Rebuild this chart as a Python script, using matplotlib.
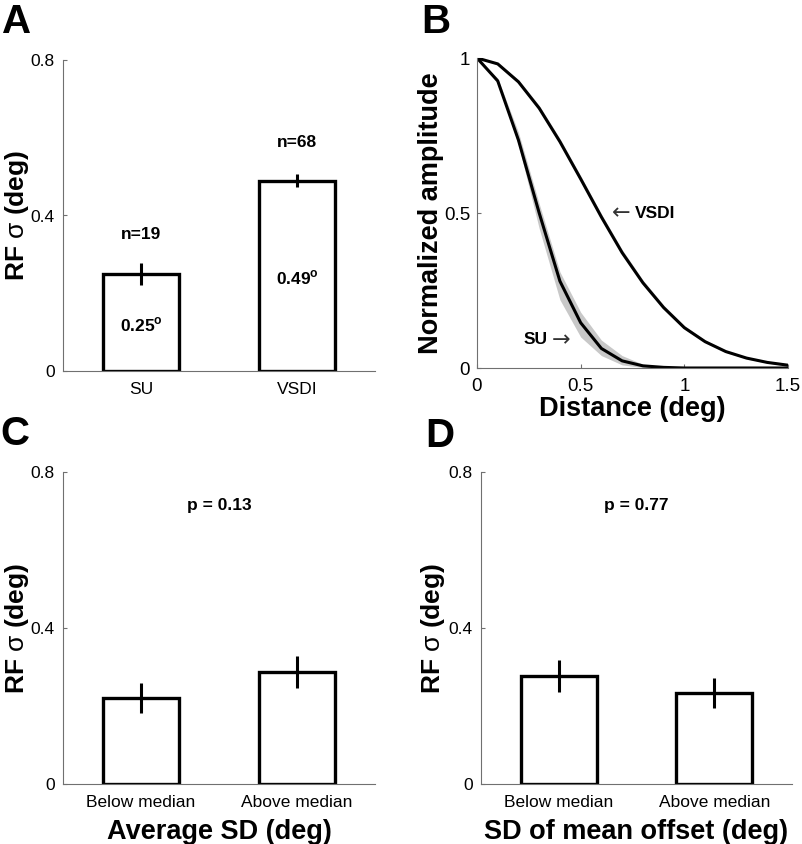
import matplotlib
matplotlib.use("Agg")
import matplotlib.pyplot as plt

plt.rcParams['font.family'] = ['Liberation Sans', 'DejaVu Sans']
plt.rcParams['mathtext.fontset'] = 'custom'
plt.rcParams['mathtext.rm'] = 'Liberation Sans'
plt.rcParams['mathtext.bf'] = 'Liberation Sans:bold'

# Panel A: RF sigma, SU vs VSDI
a_labels = ['SU', 'VSDI']
a_means = [0.25, 0.49]
a_errs = [0.028, 0.017]
a_counts = ['n=19', 'n=68']
a_values = ['0.25', '0.49']

# Panel B: normalized amplitude vs distance
dist = [0.0, 0.1, 0.2, 0.3, 0.4, 0.5, 0.6, 0.7, 0.8, 0.9, 1.0, 1.1, 1.2, 1.3, 1.4, 1.5]
su_amp = [1.0, 0.926, 0.735, 0.50, 0.28, 0.146, 0.063, 0.023, 0.007, 0.002, 0, 0, 0, 0, 0, 0]
su_lo = [1.0, 0.92, 0.72, 0.45, 0.22, 0.10, 0.04, 0.01, 0.002, 0, 0, 0, 0, 0, 0, 0]
su_hi = [1.0, 0.935, 0.76, 0.53, 0.31, 0.18, 0.09, 0.04, 0.012, 0.003, 0, 0, 0, 0, 0, 0]
vsdi_amp = [1.0, 0.981, 0.923, 0.838, 0.73, 0.61, 0.487, 0.372, 0.275, 0.195, 0.13, 0.085, 0.053, 0.032, 0.018, 0.009]
vsdi_lo = [1.0, 0.978, 0.918, 0.832, 0.723, 0.602, 0.48, 0.366, 0.27, 0.19, 0.126, 0.082, 0.05, 0.03, 0.016, 0.007]
vsdi_hi = [1.0, 0.985, 0.93, 0.847, 0.74, 0.62, 0.497, 0.382, 0.284, 0.203, 0.137, 0.09, 0.057, 0.035, 0.02, 0.011]

# Panels C and D: below / above median split
split_labels = ['Below median', 'Above median']
c_means = [0.22, 0.287]
c_errs = [0.038, 0.04]
c_p = 'p = 0.13'
d_means = [0.277, 0.233]
d_errs = [0.041, 0.039]
d_p = 'p = 0.77'

W, H = 802, 844
fig = plt.figure(figsize=(W / 100, H / 100), dpi=100)


def px_axes(left, right, top, bottom):
    return fig.add_axes([left / W, 1 - bottom / H, (right - left) / W, (bottom - top) / H])


def style(ax, fs=12.5):
    for s in ['top', 'right']:
        ax.spines[s].set_visible(False)
    for s in ['left', 'bottom']:
        ax.spines[s].set_color('#707070')
        ax.spines[s].set_linewidth(0.8)
    ax.tick_params(direction='in', length=3, width=0.8, color='#707070', labelsize=fs, pad=6)
    ax.tick_params(axis='x', pad=8)


def bar_panel(ax, labels, means, errs):
    x = [1, 2]
    ax.bar(x, means, width=0.49, color='white', edgecolor='black', linewidth=2.4, zorder=2)
    ax.errorbar(x, means, yerr=errs, fmt='none', ecolor='black', elinewidth=2.2, capsize=0, zorder=3)
    ax.set_xlim(0.5, 2.5)
    ax.set_ylim(0, 0.8)
    ax.set_xticks(x)
    ax.set_xticklabels(labels)
    ax.set_yticks([0, 0.4, 0.8])
    ax.set_yticklabels(['0', '0.4', '0.8'])
    style(ax)
    ax.set_ylabel(r'RF $\mathrm{\sigma}$ (deg)', fontsize=19, fontweight='bold')


# A
axA = px_axes(63, 375, 60, 371)
bar_panel(axA, a_labels, a_means, a_errs)
axA.yaxis.set_label_coords(-0.104, 0.5)
for xi, c, yv in zip([1, 2], a_counts, [0.352, 0.589]):
    axA.text(xi, yv, c, ha='center', va='center', fontsize=12.5, fontweight='bold')
for xi, v, yv in zip([1, 2], a_values, [0.118, 0.239]):
    axA.text(xi, yv, v + r'$^{\mathbf{o}}$', ha='center', va='center', fontsize=12.5, fontweight='bold')

# B
axB = px_axes(477, 788, 58, 368)
axB.fill_between(dist, su_lo, su_hi, color='#c8c8c8', linewidth=0, zorder=1)
axB.fill_between(dist, vsdi_lo, vsdi_hi, color='#c8c8c8', linewidth=0, zorder=1)
axB.plot(dist, su_amp, color='black', linewidth=2.2, zorder=2)
axB.plot(dist, vsdi_amp, color='black', linewidth=2.2, zorder=2)
axB.set_xlim(0, 1.5)
axB.set_ylim(0, 1)
axB.set_xticks([0, 0.5, 1, 1.5])
axB.set_xticklabels(['0', '0.5', '1', '1.5'])
axB.set_yticks([0, 0.5, 1])
axB.set_yticklabels(['0', '0.5', '1'])
style(axB, fs=13.5)
axB.tick_params(axis='x', pad=7)
axB.tick_params(axis='y', pad=5)
axB.set_xlabel('Distance (deg)', fontsize=19.5, fontweight='bold')
axB.xaxis.set_label_coords(0.5, -0.09)
axB.set_ylabel('Normalized amplitude', fontsize=19.5, fontweight='bold')
axB.yaxis.set_label_coords(-0.105, 0.5)
axB.text(0.652, 0.50, '\u2190', ha='left', va='center', fontsize=16, color='#333333', family='DejaVu Sans')
axB.text(0.762, 0.50, 'VSDI', ha='left', va='center', fontsize=12.5, fontweight='bold')
axB.text(0.223, 0.091, 'SU', ha='left', va='center', fontsize=12.5, fontweight='bold')
axB.text(0.362, 0.091, '\u2192', ha='left', va='center', fontsize=16, color='#333333', family='DejaVu Sans')

# C
axC = px_axes(63, 375, 472, 784)
bar_panel(axC, split_labels, c_means, c_errs)
axC.yaxis.set_label_coords(-0.104, 0.5)
axC.set_xlabel('Average SD (deg)', fontsize=19.5, fontweight='bold')
axC.xaxis.set_label_coords(0.5, -0.112)
axC.text(1.5, 0.715, c_p, ha='center', va='center', fontsize=12.5, fontweight='bold')

# D
axD = px_axes(481, 792, 472, 784)
bar_panel(axD, split_labels, d_means, d_errs)
axD.yaxis.set_label_coords(-0.11, 0.5)
axD.set_xlabel('SD of mean offset (deg)', fontsize=19.5, fontweight='bold')
axD.xaxis.set_label_coords(0.5, -0.112)
axD.text(1.5, 0.715, d_p, ha='center', va='center', fontsize=12.5, fontweight='bold')

# panel letters
for letter, x, y in [('A', 2, 33), ('B', 421, 33), ('C', 0, 445), ('D', 425, 447)]:
    fig.text(x / W, 1 - y / H, letter, fontsize=29, fontweight='bold', ha='left', va='baseline')

fig.savefig('out.png', dpi=100)
